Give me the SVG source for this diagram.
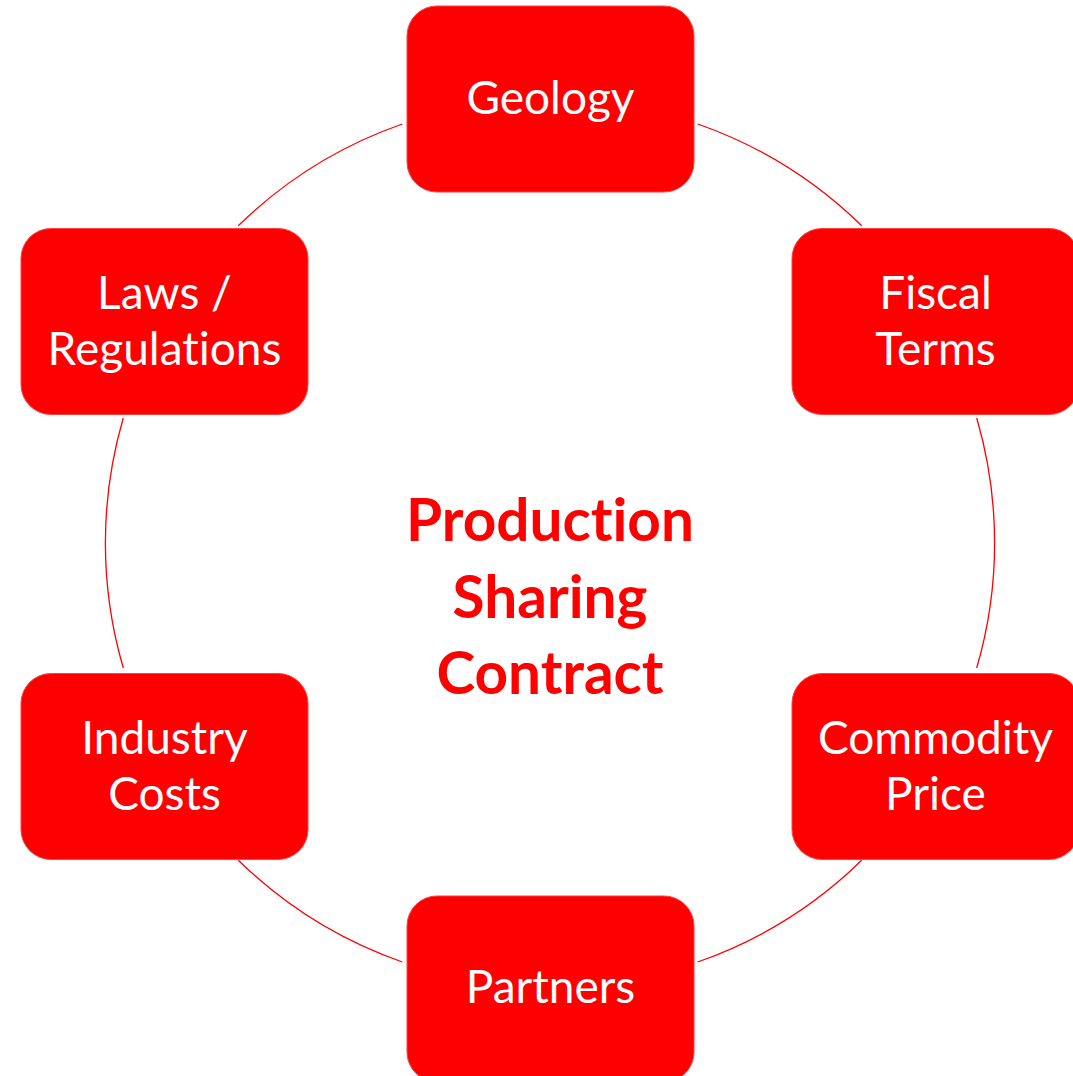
<svg xmlns="http://www.w3.org/2000/svg" width="1073" height="1076" viewBox="0 0 1073 1076">
<style>
.box{fill:#ff0000;stroke:#ff4040;stroke-width:1}
.lbl{font-family:Lato,"Open Sans","Liberation Sans",sans-serif;font-size:46px;fill:#ffffff;text-anchor:middle;font-variant-ligatures:none;font-feature-settings:"liga" 0}
.ctr{font-family:Lato,"Open Sans","Liberation Sans",sans-serif;font-size:58.5px;font-weight:bold;fill:#ff0000;text-anchor:middle;font-variant-ligatures:none;font-feature-settings:"liga" 0}
.arc{fill:none;stroke:#ff0000;stroke-width:1.3}
</style>
<rect width="1073" height="1076" fill="#ffffff"/>
<g id="connectors">
<path class="arc" d="M697.7,124 A445,445 0 0 1 861.7,225.7"/>
<path class="arc" d="M976.7,418 A445,445 0 0 1 976.7,668"/>
<path class="arc" d="M861.7,860.3 A445,445 0 0 1 697.7,962"/>
<path class="arc" d="M402.3,962 A445,445 0 0 1 238.3,860.3"/>
<path class="arc" d="M123.3,668 A445,445 0 0 1 123.3,418"/>
<path class="arc" d="M238.3,225.7 A445,445 0 0 1 402.3,124"/>
</g>
<g id="geology">
<rect class="box" x="407" y="6" width="287" height="186" rx="30"/>
<text class="lbl" x="550.5" y="114">Geology</text>
</g>
<g id="fiscal-terms">
<rect class="box" x="792" y="228.5" width="287" height="186" rx="30"/>
<text class="lbl" x="935.5" y="309">Fiscal</text>
<text class="lbl" x="935.5" y="365">Terms</text>
</g>
<g id="commodity-price">
<rect class="box" x="792" y="673.5" width="287" height="186" rx="30"/>
<text class="lbl" x="935.5" y="754">Commodity</text>
<text class="lbl" x="935.5" y="810">Price</text>
</g>
<g id="partners">
<rect class="box" x="407" y="896" width="287" height="186" rx="30"/>
<text class="lbl" x="550.5" y="1003">Partners</text>
</g>
<g id="industry-costs">
<rect class="box" x="21" y="673.5" width="287" height="186" rx="30"/>
<text class="lbl" x="164.5" y="754">Industry</text>
<text class="lbl" x="164.5" y="810">Costs</text>
</g>
<g id="laws-regulations">
<rect class="box" x="21" y="228.5" width="287" height="186" rx="30"/>
<text class="lbl" x="164.5" y="309">Laws /</text>
<text class="lbl" x="164.5" y="365">Regulations</text>
</g>
<g id="center">
<text class="ctr" x="550" y="541">Production</text>
<text class="ctr" x="550" y="618">Sharing</text>
<text class="ctr" x="550" y="694">Contract</text>
</g>
</svg>
